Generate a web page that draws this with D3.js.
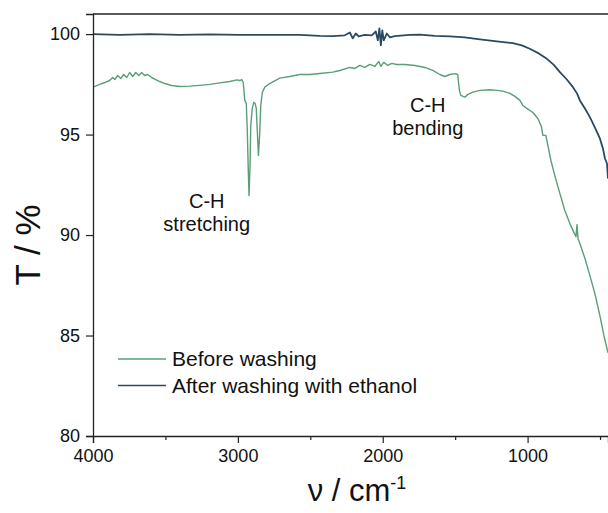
<!DOCTYPE html>
<html>
<head>
<meta charset="utf-8">
<script src="https://cdn.jsdelivr.net/npm/d3@7"></script>
<style>
  html, body { margin: 0; padding: 0; background: #fff; }
  svg { display: block; font-family: "Liberation Sans", Arial, sans-serif; }
</style>
</head>
<body>
<svg id="chart" width="608" height="513"></svg>
<script>
// FTIR transmittance, before / after ethanol wash
// points are [wavenumber cm-1, T %]

const beforeWashing = [
  [4000, 97.36], [3954, 97.50], [3919, 97.59], [3885, 97.69], [3864, 97.84], [3850, 97.74],
  [3829, 97.94], [3808, 97.79], [3788, 97.99], [3767, 97.84], [3747, 98.09], [3726, 97.89],
  [3705, 98.09], [3684, 97.94], [3664, 98.09], [3643, 97.94], [3622, 97.99], [3595, 97.84],
  [3567, 97.74], [3539, 97.64], [3505, 97.54], [3456, 97.44], [3401, 97.39], [3332, 97.41],
  [3263, 97.45], [3194, 97.50], [3125, 97.57], [3056, 97.64], [3008, 97.72], [2987, 97.69],
  [2973, 97.74], [2963, 97.59], [2952, 96.70], [2942, 96.55], [2935, 95.20], [2928, 93.21],
  [2923, 91.97], [2916, 93.46], [2911, 95.45], [2901, 96.30], [2890, 96.60], [2881, 96.56],
  [2873, 96.30], [2866, 95.20], [2858, 93.96], [2850, 94.95], [2842, 96.45], [2831, 97.10],
  [2814, 97.36], [2780, 97.54], [2711, 97.81], [2642, 97.89], [2573, 97.99], [2503, 97.99],
  [2434, 98.04], [2345, 98.11], [2296, 98.19], [2227, 98.34], [2193, 98.29], [2158, 98.44],
  [2124, 98.34], [2089, 98.49], [2055, 98.39], [2027, 98.64], [2013, 98.39], [1993, 98.59],
  [1965, 98.44], [1938, 98.54], [1903, 98.49], [1847, 98.49], [1778, 98.44], [1709, 98.34],
  [1654, 98.19], [1606, 97.99], [1571, 97.89], [1537, 97.99], [1502, 98.03], [1482, 97.99],
  [1471, 97.20], [1461, 96.95], [1433, 96.86], [1412, 97.00], [1378, 97.11], [1329, 97.20],
  [1260, 97.23], [1212, 97.20], [1171, 97.16], [1122, 97.05], [1088, 96.90], [1053, 96.70],
  [1033, 96.45], [1005, 96.30], [964, 96.10], [929, 95.80], [905, 95.40], [894, 94.96],
  [874, 94.96], [860, 94.46], [839, 93.71], [812, 92.96], [777, 92.06], [743, 91.22],
  [708, 90.57], [680, 90.12], [666, 89.92], [659, 90.52], [652, 89.82], [639, 89.58],
  [604, 88.83], [570, 87.98], [535, 87.07], [501, 85.99], [473, 84.99], [445, 84.14]
];

const afterWashing = [
  [4000, 100.00], [3816, 99.96], [3608, 100.00], [3401, 99.96], [3194, 99.99], [2987, 99.96],
  [2780, 99.96], [2573, 99.96], [2434, 99.91], [2345, 99.90], [2262, 99.94], [2227, 100.08],
  [2207, 99.79], [2186, 100.03], [2166, 99.89], [2124, 99.96], [2076, 99.94], [2048, 100.13],
  [2034, 99.69], [2023, 100.28], [2013, 99.44], [2003, 100.18], [1993, 99.69], [1972, 100.03],
  [1951, 99.84], [1917, 99.90], [1813, 99.96], [1744, 99.97], [1640, 99.91], [1537, 99.89],
  [1433, 99.84], [1329, 99.74], [1212, 99.64], [1102, 99.55], [1040, 99.44], [985, 99.27],
  [923, 99.04], [867, 98.77], [819, 98.47], [777, 98.11], [729, 97.74], [687, 97.36],
  [659, 97.05], [639, 96.70], [604, 96.30], [570, 95.87], [535, 95.35], [501, 94.81],
  [480, 94.31], [466, 93.81], [452, 93.56], [445, 92.81]
];

const xMajorTicks = [4000, 3000, 2000, 1000];
const xMinorTicks = [3500, 2500, 1500, 500];
const yTicks = [80, 85, 90, 95, 100];

const seriesNames = ['Before washing', 'After washing with ethanol'];
const seriesColors = ['#5a9e78', '#2a4a62'];

// annotation anchors: [wavenumber, T, line1, line2]
const annotations = [
  [3215, 91.36, 'C-H', 'stretching'],
  [1689, 96.10, 'C-H', 'bending']
];

const svg = d3.select('#chart');
const W = 608, H = 513;
const m = { left: 93, right: 0, top: 14, bottom: 77 };

const x = d3.scaleLinear().domain([4000, 445]).range([m.left, W - m.right]);
const y = d3.scaleLinear().domain([80, 101]).range([H - m.bottom, m.top]);

const line = d3.line().x(d => x(d[0])).y(d => y(d[1]));

const plot = svg.append('g');
plot.append('clipPath').attr('id', 'clip')
  .append('rect').attr('x', m.left).attr('y', m.top)
  .attr('width', W - m.left - m.right).attr('height', H - m.top - m.bottom);

// spectra
[beforeWashing, afterWashing].forEach((s, i) => {
  plot.append('path')
    .datum(s)
    .attr('clip-path', 'url(#clip)')
    .attr('fill', 'none')
    .attr('stroke', seriesColors[i])
    .attr('stroke-width', i === 0 ? 1.4 : 1.8)
    .attr('stroke-linejoin', 'round')
    .attr('d', line);
});

// frame top line
svg.append('line')
  .attr('x1', m.left).attr('x2', W).attr('y1', m.top).attr('y2', m.top)
  .attr('stroke', '#222').attr('stroke-width', 1.3);

// axes
svg.append('g')
  .attr('transform', `translate(0,${H - m.bottom})`)
  .call(d3.axisBottom(x).tickValues(xMajorTicks).tickSize(7).tickPadding(6).tickFormat(d3.format('d')));
svg.append('g')
  .attr('transform', `translate(0,${H - m.bottom})`)
  .call(d3.axisBottom(x).tickValues(xMinorTicks).tickSize(4).tickFormat(''))
  .call(g => g.select('.domain').remove());

svg.append('g')
  .attr('transform', `translate(${m.left},0)`)
  .call(d3.axisLeft(y).tickValues(yTicks).tickSize(7).tickPadding(6));

svg.selectAll('.domain').attr('stroke', '#222').attr('stroke-width', 1.3);
svg.selectAll('.tick line').attr('stroke', '#222').attr('stroke-width', 1.2);
svg.selectAll('.tick text').attr('font-size', 18).attr('fill', '#111')
  .attr('font-family', '"Liberation Sans", Arial, sans-serif');

// axis titles
svg.append('text')
  .attr('transform', 'translate(40,245) rotate(-90)')
  .attr('text-anchor', 'middle')
  .attr('font-size', 35)
  .attr('fill', '#111')
  .text('T / %');

const xt = svg.append('text')
  .attr('x', 357).attr('y', 501)
  .attr('text-anchor', 'middle')
  .attr('font-size', 31)
  .attr('fill', '#111');
xt.append('tspan').text('ν / cm');
xt.append('tspan').attr('font-size', 18).attr('dy', -12).text('-1');

// peak labels
annotations.forEach(a => {
  const t = svg.append('text')
    .attr('x', x(a[0])).attr('y', y(a[1]))
    .attr('text-anchor', 'middle')
    .attr('font-size', 20)
    .attr('fill', '#111');
  t.append('tspan').attr('x', x(a[0])).text(a[2]);
  t.append('tspan').attr('x', x(a[0])).attr('dy', 23).text(a[3]);
});

// legend
const legend = svg.append('g').attr('transform', 'translate(118,359)');
seriesNames.forEach((name, i) => {
  const row = legend.append('g').attr('transform', `translate(0,${i * 26.5})`);
  row.append('line').attr('x1', 0).attr('x2', 48).attr('y1', 0).attr('y2', 0)
    .attr('stroke', seriesColors[i]).attr('stroke-width', 1.3);
  row.append('text').attr('x', 54).attr('y', 7)
    .attr('font-size', 21).attr('fill', '#111').text(name);
});
</script>
</body>
</html>
